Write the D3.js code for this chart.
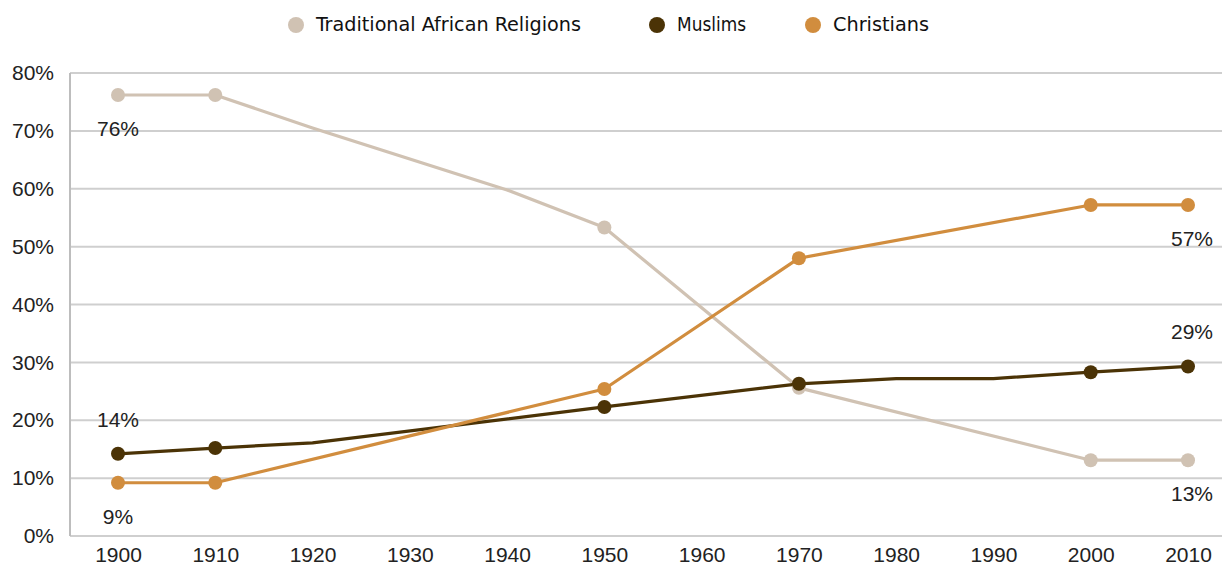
<!DOCTYPE html>
<html><head><meta charset="utf-8">
<script src="https://cdn.jsdelivr.net/npm/d3@7"></script>
<style>body{margin:0;background:#fff}svg{display:block}</style>
</head><body><svg id="c" width="1224" height="575"></svg>
<script>
const years = [1900,1910,1920,1930,1940,1950,1960,1970,1980,1990,2000,2010];
const traditional = [76.2,76.2,70.5,null,59.8,53.3,null,25.6,null,null,13.1,13.1];
const muslims     = [14.2,15.2,16.1,null,null,22.3,null,26.3,27.2,27.2,28.3,29.3];
const christians  = [9.2,9.2,null,null,null,25.4,null,48.0,null,null,57.2,57.2];
const markedYears = [1900,1910,1950,1970,2000,2010];
const seriesNames = ["Traditional African Religions","Muslims","Christians"];
const colors = ["#d0c2b3","#4b3306","#d18d3e"];
const yTicks = [0,10,20,30,40,50,60,70,80];
const endLabels = [
  {s:0, year:1900, text:"76%", pos:"below"},
  {s:1, year:1900, text:"14%", pos:"above"},
  {s:2, year:1900, text:"9%", pos:"below"},
  {s:2, year:2010, text:"57%", pos:"below"},
  {s:1, year:2010, text:"29%", pos:"above"},
  {s:0, year:2010, text:"13%", pos:"below"}
];
const seriesData = [traditional, muslims, christians];

const svg = d3.select("#c");
const x = d3.scalePoint().domain(years).range([118,1188]);
const y = d3.scaleLinear().domain([0,80]).range([536,73]);
const left = 70, right = 1222;
const font = "Liberation Sans, Arial, sans-serif";

svg.append("g").selectAll("line").data(yTicks).join("line")
  .attr("x1",left).attr("x2",right).attr("y1",d=>y(d)).attr("y2",d=>y(d))
  .attr("stroke","#cfcfcf").attr("stroke-width",2);
svg.append("line").attr("x1",left).attr("x2",left).attr("y1",y(80)).attr("y2",y(0))
  .attr("stroke","#bdbdbd").attr("stroke-width",2);

const yAxis = d3.axisLeft(y).tickValues(yTicks).tickFormat(d=>d+"%").tickSize(0).tickPadding(0);
const ya = svg.append("g").attr("transform","translate(54,0)").call(yAxis);
ya.select(".domain").remove();
ya.selectAll("text").attr("font-family",font).attr("font-size",21).attr("fill","#222");

const xAxis = d3.axisBottom(x).tickSize(0).tickPadding(0);
const xa = svg.append("g").attr("transform","translate(0,547)").call(xAxis);
xa.select(".domain").remove();
xa.selectAll("text").attr("font-family",font).attr("font-size",21).attr("fill","#222");

const line = d3.line().x(d=>x(d.year)).y(d=>y(d.v));
seriesData.forEach((vals,i)=>{
  const pts = years.map((yr,j)=>({year:yr,v:vals[j]})).filter(d=>d.v!=null);
  svg.append("path").datum(pts).attr("d",line).attr("fill","none")
    .attr("stroke",colors[i]).attr("stroke-width",3.2).attr("stroke-linejoin","round");
});
seriesData.forEach((vals,i)=>{
  const pts = years.map((yr,j)=>({year:yr,v:vals[j]})).filter(d=>d.v!=null && markedYears.includes(d.year));
  svg.append("g").selectAll("circle").data(pts).join("circle")
    .attr("cx",d=>x(d.year)).attr("cy",d=>y(d.v)).attr("r",7).attr("fill",colors[i]);
});

svg.append("g").selectAll("text").data(endLabels).join("text")
  .attr("x",d=>x(d.year)+(d.year===2010?4:0))
  .attr("y",d=>{const v=seriesData[d.s][years.indexOf(d.year)]; return y(v)+(d.pos==="below"?41:-27);})
  .attr("text-anchor","middle")
  .attr("font-family",font).attr("font-size",21).attr("fill","#222")
  .text(d=>d.text);

const legX = [296,657,813];
const legW = [265,69,96];
const lg = svg.append("g");
seriesNames.forEach((n,i)=>{
  lg.append("circle").attr("cx",legX[i]).attr("cy",25).attr("r",8).attr("fill",colors[i]);
  lg.append("text").attr("x",legX[i]+20).attr("y",31).text(n)
    .attr("textLength",legW[i]).attr("lengthAdjust","spacingAndGlyphs")
    .attr("font-family","DejaVu Sans Condensed, sans-serif").attr("font-size",20).attr("fill","#111");
});
</script></body></html>
